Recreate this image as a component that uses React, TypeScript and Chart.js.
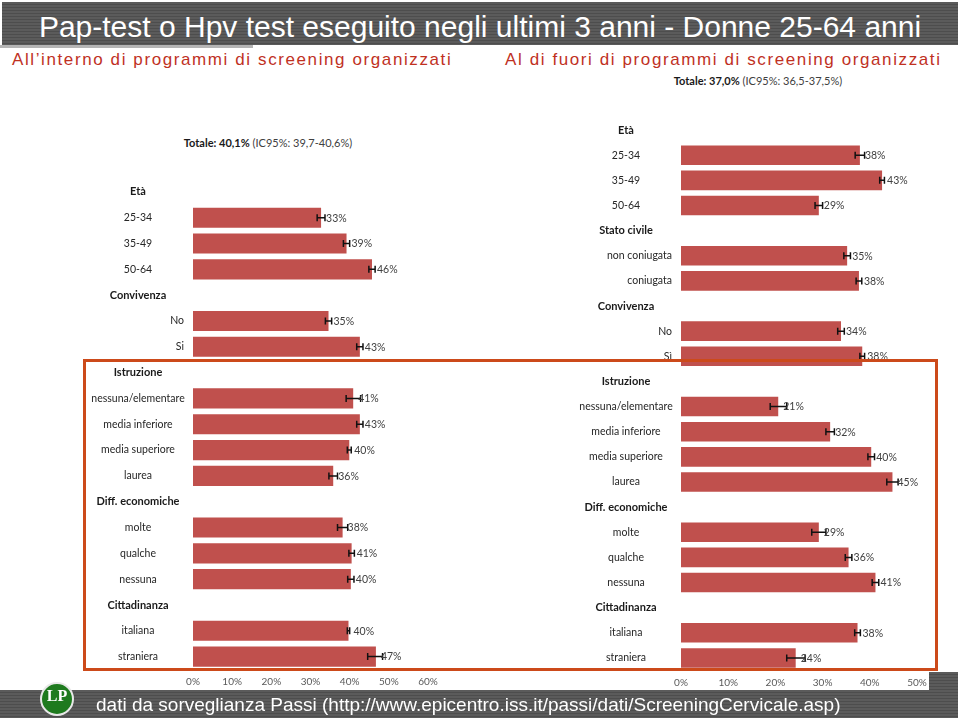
import React, { useEffect, useRef } from "react";
import { Chart, registerables } from "chart.js";

Chart.register(...registerables);

// ---------- DATA ----------
const leftLabels = ["Età", "25-34", "35-49", "50-64", "Convivenza", "No", "Si", "Istruzione", "nessuna/elementare", "media inferiore", "media superiore", "laurea", "Diff. economiche", "molte", "qualche", "nessuna", "Cittadinanza", "italiana", "straniera"];
const leftHeaders = ["Età", "Convivenza", "Istruzione", "Diff. economiche", "Cittadinanza"];
const leftValues = [null, 32.7, 39.2, 45.7, null, 34.6, 42.6, null, 40.9, 42.6, 39.9, 35.8, null, 38.2, 40.5, 40.3, null, 39.7, 46.7];
const leftLow = [null, 31.7, 38.4, 44.9, null, 33.8, 41.8, null, 39.1, 41.8, 39.4, 34.7, null, 36.9, 39.8, 39.5, null, 39.4, 44.6];
const leftHigh = [null, 33.7, 40.0, 46.5, null, 35.4, 43.4, null, 42.8, 43.4, 40.4, 36.9, null, 39.5, 41.2, 41.1, null, 40.0, 48.4];
const leftValueLabels = ["", "33%", "39%", "46%", "", "35%", "43%", "", "41%", "43%", "40%", "36%", "", "38%", "41%", "40%", "", "40%", "47%"];
const leftTicks = [0, 10, 20, 30, 40, 50, 60];

const rightLabels = ["Età", "25-34", "35-49", "50-64", "Stato civile", "non coniugata", "coniugata", "Convivenza", "No", "Sì", "Istruzione", "nessuna/elementare", "media inferiore", "media superiore", "laurea", "Diff. economiche", "molte", "qualche", "nessuna", "Cittadinanza", "italiana", "straniera"];
const rightHeaders = ["Età", "Stato civile", "Convivenza", "Istruzione", "Diff. economiche", "Cittadinanza"];
const rightValues = [null, 37.9, 42.6, 29.2, null, 35.2, 37.7, null, 33.9, 38.4, null, 20.6, 31.6, 40.3, 44.8, null, 29.2, 35.5, 41.2, null, 37.4, 24.3];
const rightLow = [null, 36.9, 42.1, 28.4, null, 34.5, 37.1, null, 33.2, 37.9, null, 18.9, 30.7, 39.6, 43.6, null, 27.7, 34.8, 40.5, null, 36.8, 22.4];
const rightHigh = [null, 38.9, 43.1, 30.0, null, 35.9, 38.3, null, 34.6, 38.9, null, 22.4, 32.5, 41.0, 46.0, null, 30.7, 36.2, 41.9, null, 38.0, 26.3];
const rightValueLabels = ["", "38%", "43%", "29%", "", "35%", "38%", "", "34%", "38%", "", "21%", "32%", "40%", "45%", "", "29%", "36%", "41%", "", "38%", "24%"];
const rightTicks = [0, 10, 20, 30, 40, 50];

const mainTitle = "Pap-test o Hpv test eseguito negli ultimi 3 anni - Donne 25-64 anni";
const leftSubtitle = "All’interno di programmi di screening organizzati";
const rightSubtitle = "Al di fuori di programmi di screening organizzati";
const leftTotalBold = "Totale: 40,1%";
const leftTotalRest = " (IC95%: 39,7-40,6%)";
const rightTotalBold = "Totale: 37,0%";
const rightTotalRest = " (IC95%: 36,5-37,5%)";
const footerText = "dati da sorveglianza Passi (http://www.epicentro.iss.it/passi/dati/ScreeningCervicale.asp)";

// ---------- STYLE ----------
const BAR = "#C0504D";
const FONT = "Lato, 'Open Sans', sans-serif";
const NARROW = "'Liberation Sans Narrow', 'Arial Narrow', 'Liberation Sans', sans-serif";
const rightAlignedGroups = ["Convivenza", "Stato civile"];

type PanelProps = {
  labels: string[];
  headers: string[];
  values: (number | null)[];
  low: (number | null)[];
  high: (number | null)[];
  valueLabels: string[];
  ticks: number[];
  canvas: { left: number; top: number; width: number; height: number };
  area: { left: number; right: number; top: number; bottom: number };
};

function BarPanel(p: PanelProps) {
  const ref = useRef<HTMLCanvasElement | null>(null);
  useEffect(() => {
    if (!ref.current) return;
    const c = p.canvas;
    const a = p.area;
    const axisH = c.top + c.height - a.bottom;
    const labelPlugin = {
      id: "rowlabels",
      afterDatasetsDraw(chart: any) {
        const ctx = chart.ctx;
        const ys = chart.scales.y;
        const xs = chart.scales.x;
        const left = chart.chartArea.left;
        ctx.save();
        ctx.textBaseline = "middle";
        let group = "";
        p.labels.forEach((lab, i) => {
          const y = ys.getPixelForValue(i);
          const isHeader = p.headers.includes(lab);
          if (isHeader) {
            group = lab;
            ctx.font = `bold 11px ${FONT}`;
            ctx.fillStyle = "#1a1a1a";
            ctx.textAlign = "center";
            ctx.fillText(lab, left - 55, y);
          } else {
            ctx.font = `10.5px ${FONT}`;
            ctx.fillStyle = "#262626";
            if (rightAlignedGroups.includes(group)) {
              ctx.textAlign = "right";
              ctx.fillText(lab, left - 9, y);
            } else {
              ctx.textAlign = "center";
              ctx.fillText(lab, left - 55, y);
            }
          }
          const lo = p.low[i];
          const hi = p.high[i];
          if (lo != null && hi != null) {
            const x1 = xs.getPixelForValue(lo);
            const x2 = xs.getPixelForValue(hi);
            ctx.strokeStyle = "#111";
            ctx.lineWidth = 1.5;
            ctx.beginPath();
            ctx.moveTo(x1, y);
            ctx.lineTo(x2, y);
            ctx.moveTo(x1, y - 3.5);
            ctx.lineTo(x1, y + 3.5);
            ctx.moveTo(x2, y - 3.5);
            ctx.lineTo(x2, y + 3.5);
            ctx.stroke();
          }
          const v = p.values[i];
          if (v != null && p.valueLabels[i]) {
            ctx.font = `10.5px ${FONT}`;
            ctx.fillStyle = "#404040";
            ctx.textAlign = "left";
            ctx.fillText(p.valueLabels[i], xs.getPixelForValue(v) + 5, y + 0.5);
          }
        });
        ctx.restore();
      },
    };
    const chart = new Chart(ref.current, {
      type: "bar",
      data: {
        labels: p.labels,
        datasets: [
          {
            data: p.values as any,
            backgroundColor: BAR,
            borderWidth: 0,
            barPercentage: 0.78,
            categoryPercentage: 1,
          },
        ],
      },
      options: {
        indexAxis: "y",
        responsive: false,
        animation: false,
        devicePixelRatio: 1,
        layout: {
          padding: {
            left: a.left - c.left,
            right: c.left + c.width - a.right,
            top: a.top - c.top,
            bottom: 0,
          },
        },
        plugins: { legend: { display: false }, tooltip: { enabled: false } },
        scales: {
          y: { type: "category", display: false, offset: true },
          x: {
            type: "linear",
            min: p.ticks[0],
            max: p.ticks[p.ticks.length - 1],
            afterBuildTicks: (s: any) => {
              s.ticks = p.ticks.map((v) => ({ value: v }));
            },
            afterFit: (s: any) => {
              s.height = axisH;
              s.paddingLeft = 0;
              s.paddingRight = 0;
            },
            grid: { display: false, drawTicks: false },
            border: { display: false },
            ticks: {
              padding: 6,
              color: "#595959",
              font: { family: FONT, size: 10 },
              maxRotation: 0,
              callback: (v: any) => `${v}%`,
            },
          },
        },
      } as any,
      plugins: [labelPlugin],
    });
    return () => chart.destroy();
  }, []);
  return (
    <canvas
      ref={ref}
      width={p.canvas.width}
      height={p.canvas.height}
      style={{ position: "absolute", left: p.canvas.left, top: p.canvas.top, width: p.canvas.width, height: p.canvas.height }}
    />
  );
}

const stripes = "repeating-linear-gradient(180deg, #5b5b5b 0px, #5b5b5b 2px, #4d4d4d 2px, #4d4d4d 3px)";

export default function App() {
  useEffect(() => {
    document.body.style.margin = "0";
  }, []);
  return (
    <div style={{ position: "absolute", left: 0, top: 0, width: 960, height: 722, background: "#fff", overflow: "hidden" }}>
      {/* title bar */}
      <div style={{ position: "absolute", left: 2, top: 2, width: 956, height: 43, background: stripes }} />
      <div style={{ position: "absolute", left: 0, top: 45, width: 253, height: 3, background: "#b5b5b5" }} />
      <div
        style={{
          position: "absolute", left: 0, top: 8, width: 960, textAlign: "center", color: "#fff",
          fontFamily: NARROW, fontSize: 30, lineHeight: "38px", whiteSpace: "nowrap",
        }}
      >
        {mainTitle}
      </div>
      {/* subtitles */}
      <div style={{ position: "absolute", left: 12, top: 50, color: "#C0311F", fontFamily: NARROW, fontSize: 17, letterSpacing: 1.6, lineHeight: "20px", whiteSpace: "nowrap" }}>
        {leftSubtitle}
      </div>
      <div style={{ position: "absolute", left: 505, top: 50, color: "#C0311F", fontFamily: NARROW, fontSize: 17, letterSpacing: 1.6, lineHeight: "20px", whiteSpace: "nowrap" }}>
        {rightSubtitle}
      </div>
      {/* totals */}
      <div style={{ position: "absolute", left: 118, width: 300, top: 136, textAlign: "center", fontFamily: FONT, fontSize: 11, color: "#404040", whiteSpace: "nowrap" }}>
        <b style={{ color: "#1a1a1a" }}>{leftTotalBold}</b>{leftTotalRest}
      </div>
      <div style={{ position: "absolute", left: 608, width: 300, top: 74, textAlign: "center", fontFamily: FONT, fontSize: 11, color: "#404040", whiteSpace: "nowrap" }}>
        <b style={{ color: "#1a1a1a" }}>{rightTotalBold}</b>{rightTotalRest}
      </div>

      <BarPanel
        labels={leftLabels}
        headers={leftHeaders}
        values={leftValues}
        low={leftLow}
        high={leftHigh}
        valueLabels={leftValueLabels}
        ticks={leftTicks}
        canvas={{ left: 85, top: 165, width: 355, height: 525 }}
        area={{ left: 193, right: 428, top: 179, bottom: 669.5 }}
      />
      <BarPanel
        labels={rightLabels}
        headers={rightHeaders}
        values={rightValues}
        low={rightLow}
        high={rightHigh}
        valueLabels={rightValueLabels}
        ticks={rightTicks}
        canvas={{ left: 575, top: 105, width: 370, height: 587 }}
        area={{ left: 681, right: 917, top: 117.5, bottom: 670.5 }}
      />

      {/* highlight rectangle */}
      <div style={{ position: "absolute", left: 83, top: 359, width: 855, height: 312, boxSizing: "border-box", border: "3px solid #CC4A1A", pointerEvents: "none" }} />

      {/* footer */}
      <div style={{ position: "absolute", left: 929, top: 672, width: 29, height: 20, background: stripes }} />
      <div style={{ position: "absolute", left: 0, top: 690, width: 958, height: 28, background: stripes }} />
      <div style={{ position: "absolute", left: 40, top: 682, width: 30, height: 30, borderRadius: "50%", background: "#1E7A1E", border: "2px solid #e8e8e8", color: "#fff", fontFamily: "'Liberation Serif', serif", fontWeight: "bold", fontSize: 16, textAlign: "center", lineHeight: "24px" }}>
        LP
      </div>
      <div style={{ position: "absolute", left: 96, top: 693, color: "#fff", fontFamily: NARROW, fontSize: 19, letterSpacing: 0, lineHeight: "24px", whiteSpace: "nowrap" }}>
        {footerText}
      </div>
    </div>
  );
}
